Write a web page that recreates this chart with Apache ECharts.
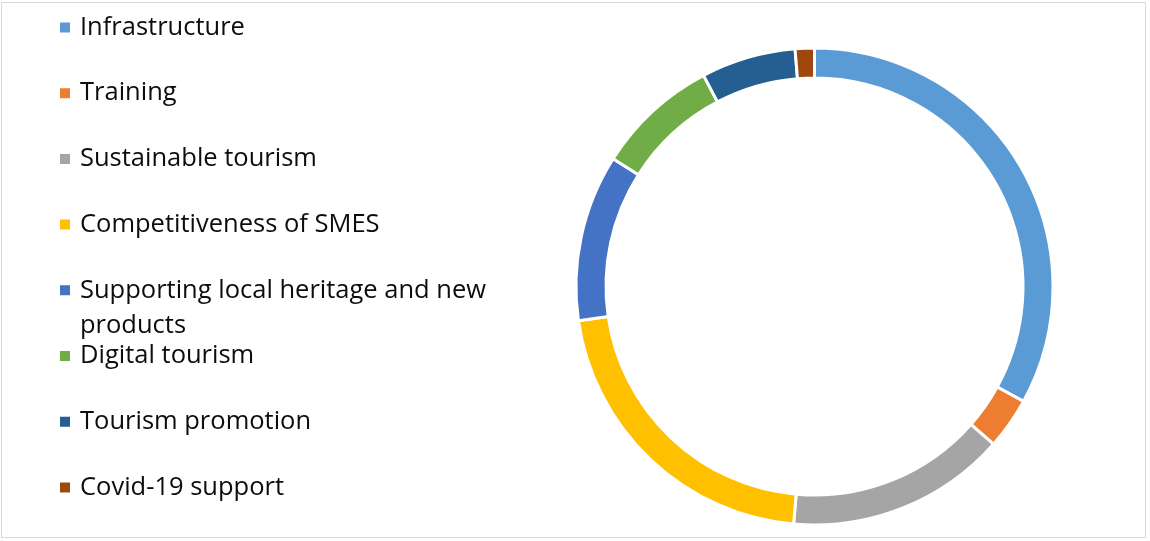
<!DOCTYPE html>
<html>
<head>
<meta charset="utf-8">
<script src="https://cdn.jsdelivr.net/npm/echarts@6/dist/echarts.min.js"></script>
<style>
  html, body { margin: 0; padding: 0; background: #fff; }
  .frame {
    position: absolute;
    left: 1px;
    top: 2px;
    width: 1145px;
    height: 536px;
    border: 1px solid #d9d9d9;
    box-sizing: border-box;
  }
  #chart { position: absolute; left: 0; top: 0; width: 1150px; height: 541px; }
</style>
</head>
<body>
<div class="frame"></div>
<div id="chart"></div>
<script>
var categories = [
  "Infrastructure",
  "Training",
  "Sustainable tourism",
  "Competitiveness of SMES",
  "Supporting local heritage and new products",
  "Digital tourism",
  "Tourism promotion",
  "Covid-19 support"
];
var shares = [33.0, 3.5, 14.9, 21.3, 11.3, 8.3, 6.4, 1.3];
var colors = ["#5b9bd5", "#ed7d31", "#a5a5a5", "#ffc000", "#4472c4", "#70ad47", "#255e91", "#9e480e"];

var myChart = echarts.init(document.getElementById("chart"));

var lineH = 35;
var firstCenter = 27.5;
var step = 65.7;

// one legend per entry so the wrapped label does not push the rest down
var legends = categories.map(function(name, i) {
  var c = firstCenter + i * step;
  var wrapped = name.length > 30;
  return {
    data: [name],
    orient: "vertical",
    left: 58,
    // wrapped label gets a blank first line so the icon sits on "Supporting ..."
    top: wrapped ? c - lineH * 1.5 : c - lineH / 2,
    padding: 0,
    icon: "rect",
    itemWidth: 12,
    itemHeight: 12,
    selectedMode: false,
    formatter: function(n) {
      return n === "Supporting local heritage and new products"
        ? " \nSupporting local heritage and new\nproducts"
        : n;
    },
    textStyle: {
      fontFamily: "Open Sans",
      fontSize: 25.5,
      color: "#0d0d0d",
      lineHeight: lineH,
      padding: [0, 0, 0, 4]
    }
  };
});

var pieData = categories.map(function(name, i) {
  return { name: name, value: shares[i] };
});

myChart.setOption({
  animation: false,
  color: colors,
  legend: legends,
  series: [
    {
      type: "pie",
      center: [814.5, 286.5],
      radius: [208.5, 238.5],
      startAngle: 90,
      clockwise: true,
      silent: true,
      label: { show: false },
      labelLine: { show: false },
      itemStyle: {
        borderColor: "#fff",
        borderWidth: 3
      },
      data: pieData
    }
  ]
});
</script>
</body>
</html>
